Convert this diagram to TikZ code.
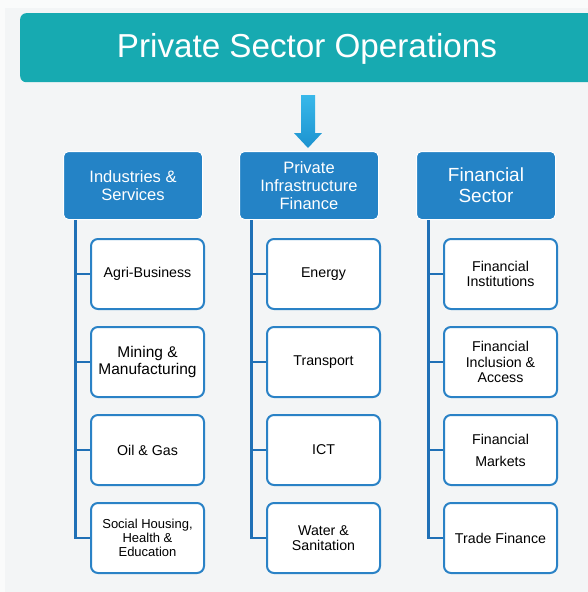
\documentclass[tikz,border=0pt]{standalone}
\usepackage{fontspec}
\setmainfont{Liberation Sans}
\usetikzlibrary{calc}
\definecolor{bgc}{HTML}{F3F5F6}
\definecolor{teal}{HTML}{17AAB1}
\definecolor{hdr}{HTML}{2483C6}
\definecolor{brd}{HTML}{2A82C6}
\definecolor{lnc}{HTML}{1F70B6}
\definecolor{arrtop}{HTML}{38B8EA}
\definecolor{arrbot}{HTML}{1C92CF}
\tikzset{
  titlebox/.style={draw=none, fill=teal, rounded corners=6pt, inner sep=0pt, text=white},
  hdrbox/.style={draw=white, line width=1pt, fill=hdr, rounded corners=5pt, minimum width=139pt, minimum height=68pt, inner sep=0pt, text=white, align=center, anchor=north west},
  childbox/.style={draw=brd, line width=2pt, fill=white!97!bgc, rounded corners=7pt, minimum width=113pt, minimum height=70pt, inner sep=0pt, text=black, align=center, anchor=north west, font=\fontsize{14.2}{15.5}\selectfont},
  conn/.style={draw=lnc, line width=2.5pt},
}
\begin{document}
\begin{tikzpicture}[x=1pt,y=-1pt]
\useasboundingbox (0,0) rectangle (588,592);
\fill[bgc] (0,0) rectangle (588,592);
\fill[white!60!bgc] (0,0) rectangle (588,8);
\fill[white!60!bgc] (0,0) rectangle (5,592);
% title
\node[titlebox, minimum width=580pt, minimum height=69pt, anchor=north west] (title) at (20,13) {};
\node[text=white, font=\fontsize{33.2}{36}\selectfont] (titletext) at (307,49) {Private Sector Operations};
% arrow
\shade[top color=arrtop, bottom color=arrbot] (301,95) -- (315,95) -- (315,133) -- (322,133) -- (308,148) -- (294,133) -- (301,133) -- cycle;
% headers
\node[hdrbox, font=\fontsize{16.5}{18}\selectfont] (h1) at (63,151) {Industries \&\\Services};
\node[hdrbox, font=\fontsize{16.5}{18}\selectfont] (h2) at (239,151) {Private\\Infrastructure\\Finance};
\node[hdrbox, font=\fontsize{19}{21}\selectfont] (h3) at (416,151) {Financial\\Sector};
% children col1
\node[childbox] (a1) at (90,238) {Agri-Business};
\node[childbox, font=\fontsize{15.5}{17}\selectfont] (a2) at (90,326) {Mining \&\\Manufacturing};
\node[childbox] (a3) at (90,414) {Oil \& Gas};
\node[childbox, font=\fontsize{13}{14}\selectfont] (a4) at (90,502) {Social Housing,\\Health \&\\Education};
% col2
\node[childbox] (b1) at (266,238) {Energy};
\node[childbox] (b2) at (266,326) {Transport};
\node[childbox] (b3) at (266,414) {ICT};
\node[childbox] (b4) at (266,502) {Water \&\\Sanitation};
% col3
\node[childbox] (c1) at (443,238) {Financial\\Institutions};
\node[childbox] (c2) at (443,326) {Financial\\Inclusion \&\\Access};
\node[childbox, font=\fontsize{14.2}{22}\selectfont] (c3) at (443,414) {Financial\\Markets};
\node[childbox] (c4) at (443,502) {Trade Finance};
% connectors
\foreach \h/\c in {h1/a,h2/b,h3/c}{
  \coordinate (\h top) at ($(\h.south west)+(12.5,0)$);
  \foreach \i in {1,2,3,4}{
    \draw[conn] (\h top) |- (\c\i.west);
  }
}
\end{tikzpicture}
\end{document}
